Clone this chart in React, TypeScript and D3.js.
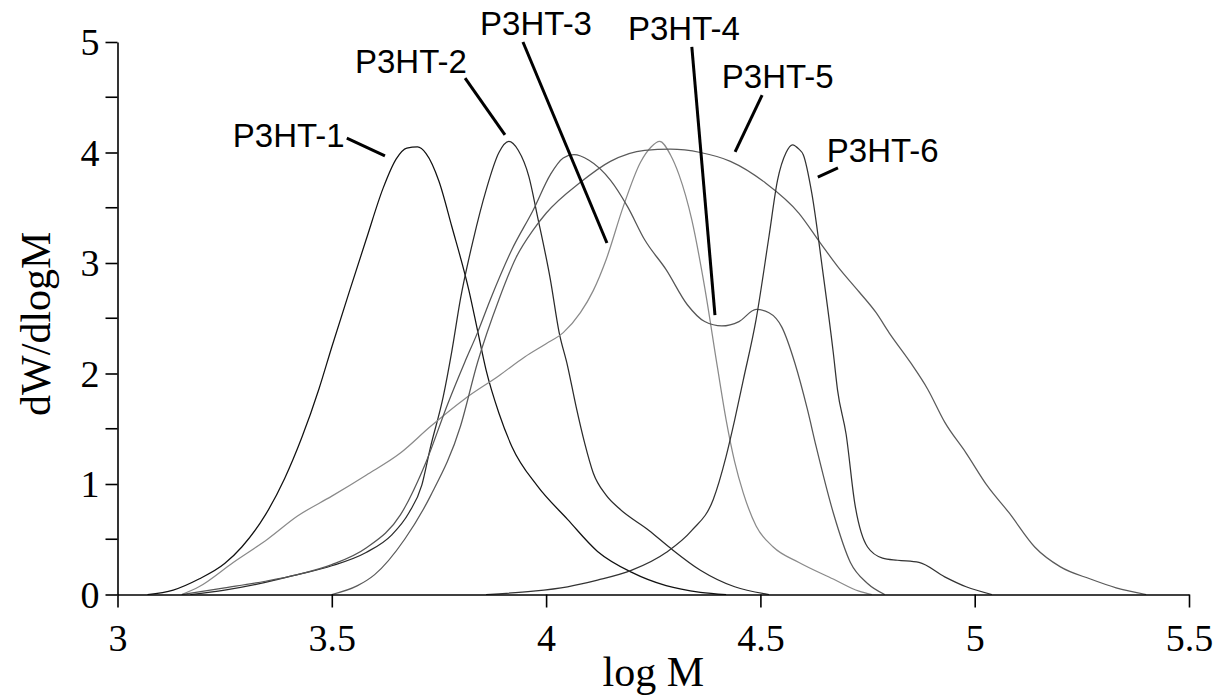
import * as d3 from "d3";
import { useEffect, useRef } from "react";

// GPC traces: [log M, dW/dlogM]
const p3ht1: [number, number][] = [
  [3.07, 0], [3.13, 0.04], [3.19, 0.14], [3.25, 0.28], [3.29, 0.43], [3.345, 0.72],
  [3.39, 1.05], [3.43, 1.42], [3.47, 1.86], [3.5, 2.24], [3.54, 2.73], [3.58, 3.21],
  [3.62, 3.68], [3.65, 3.94], [3.675, 4.04], [3.7, 4.05], [3.72, 3.99], [3.75, 3.74],
  [3.78, 3.33], [3.82, 2.75], [3.84, 2.39], [3.86, 2.03], [3.89, 1.64], [3.92, 1.34],
  [3.98, 0.98], [4.05, 0.68], [4.12, 0.39], [4.2, 0.2], [4.28, 0.08], [4.36, 0.02], [4.42, 0],
];

const p3ht2: [number, number][] = [
  [3.17, 0], [3.25, 0.04], [3.345, 0.11], [3.42, 0.18], [3.5, 0.26], [3.58, 0.38],
  [3.64, 0.54], [3.68, 0.74], [3.71, 0.99], [3.73, 1.33], [3.76, 1.79], [3.78, 2.2],
  [3.8, 2.67], [3.83, 3.21], [3.86, 3.66], [3.89, 4.0], [3.913, 4.1], [3.935, 4.02],
  [3.96, 3.78], [3.98, 3.42], [4.01, 2.85], [4.03, 2.38], [4.05, 2.07], [4.07, 1.7],
  [4.09, 1.37], [4.11, 1.1], [4.14, 0.9], [4.17, 0.78], [4.24, 0.58], [4.29, 0.42],
  [4.36, 0.22], [4.44, 0.07], [4.52, 0],
];

const p3ht3: [number, number][] = [
  [3.15, 0], [3.19, 0.07], [3.27, 0.29], [3.35, 0.5], [3.42, 0.71], [3.5, 0.89],
  [3.58, 1.08], [3.66, 1.28], [3.73, 1.52], [3.81, 1.77], [3.89, 1.98], [3.95, 2.15],
  [4.0, 2.27], [4.04, 2.37], [4.08, 2.55], [4.11, 2.75], [4.14, 3.03], [4.18, 3.51],
  [4.22, 3.91], [4.245, 4.05], [4.265, 4.1], [4.29, 3.98], [4.31, 3.8], [4.34, 3.39],
  [4.37, 2.78], [4.4, 2.05], [4.42, 1.58], [4.44, 1.2], [4.46, 0.92], [4.49, 0.62],
  [4.53, 0.43], [4.59, 0.29], [4.67, 0.14], [4.73, 0.03], [4.76, 0],
];

const p3ht4: [number, number][] = [
  [3.15, 0], [3.25, 0.06], [3.345, 0.12], [3.42, 0.18], [3.5, 0.27], [3.58, 0.42],
  [3.66, 0.72], [3.72, 1.2], [3.77, 1.72], [3.81, 2.1], [3.84, 2.37], [3.87, 2.67],
  [3.92, 3.12], [3.97, 3.48], [4.01, 3.8], [4.04, 3.95], [4.065, 3.98], [4.1, 3.93],
  [4.15, 3.75], [4.19, 3.51], [4.23, 3.21], [4.28, 2.94], [4.33, 2.62], [4.37, 2.47],
  [4.41, 2.43], [4.45, 2.47], [4.49, 2.58], [4.52, 2.55], [4.55, 2.42], [4.58, 2.1],
  [4.61, 1.67], [4.63, 1.34], [4.67, 0.74], [4.71, 0.29], [4.75, 0.1], [4.79, 0],
];

const p3ht5: [number, number][] = [
  [3.5, 0], [3.56, 0.08], [3.6, 0.18], [3.67, 0.5], [3.73, 0.89], [3.8, 1.52],
  [3.84, 2.1], [3.89, 2.67], [3.93, 3.05], [3.97, 3.3], [4.0, 3.45], [4.08, 3.73],
  [4.15, 3.92], [4.23, 4.02], [4.29, 4.03], [4.36, 4.0], [4.43, 3.92], [4.51, 3.73],
  [4.59, 3.45], [4.64, 3.18], [4.68, 2.97], [4.73, 2.74], [4.77, 2.55], [4.8, 2.37],
  [4.85, 2.1], [4.89, 1.86], [4.93, 1.56], [4.98, 1.28], [5.03, 0.98], [5.08, 0.74],
  [5.14, 0.43], [5.2, 0.25], [5.27, 0.14], [5.33, 0.06], [5.4, 0],
];

const p3ht6: [number, number][] = [
  [3.86, 0], [3.97, 0.03], [4.05, 0.07], [4.12, 0.13], [4.2, 0.22], [4.28, 0.38],
  [4.34, 0.58], [4.39, 0.86], [4.42, 1.25], [4.44, 1.58], [4.46, 1.94], [4.49, 2.49],
  [4.52, 3.24], [4.54, 3.75], [4.56, 4.0], [4.575, 4.07], [4.59, 4.03], [4.6, 3.98],
  [4.62, 3.63], [4.645, 2.94], [4.67, 2.19], [4.68, 1.85], [4.7, 1.45], [4.72, 0.83],
  [4.75, 0.43], [4.785, 0.33], [4.82, 0.31], [4.87, 0.29], [4.93, 0.16], [4.98, 0.07],
  [5.04, 0],
];

const seriesNames = ["P3HT-1", "P3HT-2", "P3HT-3", "P3HT-4", "P3HT-5", "P3HT-6"];
const seriesData = [p3ht1, p3ht2, p3ht3, p3ht4, p3ht5, p3ht6];
const seriesColors = ["#111", "#2a2a2a", "#8a8a8a", "#555", "#5a5a5a", "#333"];

const xTicks = [3, 3.5, 4, 4.5, 5, 5.5];
const yTicks = [0, 1, 2, 3, 4, 5];
const yMinorTicks = [0.5, 1.5, 2.5, 3.5, 4.5];

// label anchor [logM, dW] and leader line from/to, in data units
const labelPos: [number, number][] = [
  [3.269, 4.05], [3.554, 4.72], [3.846, 5.06], [4.191, 5.02], [4.41, 4.58], [4.655, 3.91],
];
const leaderFrom: [number, number][] = [
  [3.535, 4.13], [3.811, 4.674], [3.946, 5.0], [4.34, 4.955], [4.504, 4.52], [4.681, 3.86],
];
const leaderTo: [number, number][] = [
  [3.624, 3.97], [3.904, 4.16], [4.142, 3.181], [4.394, 2.529], [4.441, 4.005], [4.634, 3.778],
];

function drawChart(svgElement: SVGSVGElement) {
  const width = 1223;
  const height = 697;
  const svg = d3.select(svgElement);
  svg.selectAll("*").remove();
  svg.attr("width", width).attr("height", height).attr("viewBox", `0 0 ${width} ${height}`);

  svg.append("rect").attr("width", width).attr("height", height).attr("fill", "#fff");

  const x = d3.scaleLinear().domain([3, 5.5]).range([117.5, 1189]);
  const y = d3.scaleLinear().domain([0, 5]).range([594.5, 42]);

  const serif = "'Liberation Serif', 'Times New Roman', serif";
  const sans = "'Liberation Sans', Arial, sans-serif";

  // curves
  const line = d3
    .line<[number, number]>()
    .x((d) => x(d[0]))
    .y((d) => y(d[1]))
    .curve(d3.curveMonotoneX);

  svg
    .append("g")
    .selectAll("path")
    .data(seriesData)
    .join("path")
    .attr("d", (d) => line(d))
    .attr("fill", "none")
    .attr("stroke", (_d, i) => seriesColors[i])
    .attr("stroke-width", 1.25);

  // axes
  const xAxis = svg.append("g").attr("transform", `translate(0,${y(0)})`);
  xAxis.call(d3.axisBottom(x).tickValues(xTicks).tickSize(13).tickSizeOuter(0).tickFormat(d3.format("")));
  xAxis.select(".domain").attr("stroke-width", 1.6);
  xAxis.selectAll(".tick line").attr("stroke-width", 1.6);
  xAxis
    .selectAll(".tick text")
    .attr("font-family", serif)
    .attr("font-size", 38)
    .attr("fill", "#000")
    .attr("dy", 0)
    .attr("y", 56);

  const yAxis = svg.append("g").attr("transform", `translate(${x(3)},0)`);
  yAxis.call(d3.axisLeft(y).tickValues(yTicks).tickSize(12).tickSizeOuter(0).tickFormat(d3.format("")));
  yAxis.select(".domain").attr("stroke-width", 1.6);
  yAxis.selectAll(".tick line").attr("stroke-width", 1.6);
  yAxis
    .selectAll(".tick text")
    .attr("font-family", serif)
    .attr("font-size", 38)
    .attr("fill", "#000")
    .attr("x", -18)
    .attr("dy", "0.33em");

  yAxis
    .append("g")
    .selectAll("line")
    .data(yMinorTicks)
    .join("line")
    .attr("x1", -12)
    .attr("x2", 0)
    .attr("y1", (d) => y(d))
    .attr("y2", (d) => y(d))
    .attr("stroke", "#000")
    .attr("stroke-width", 1.6);

  // axis titles
  svg
    .append("text")
    .attr("x", (x(4) + x(4.5)) / 2)
    .attr("y", 686)
    .attr("text-anchor", "middle")
    .attr("font-family", serif)
    .attr("font-size", 42)
    .text("log M");

  svg
    .append("text")
    .attr("transform", `translate(50,${y(2.45)}) rotate(-90)`)
    .attr("text-anchor", "middle")
    .attr("font-family", serif)
    .attr("font-size", 42)
    .text("dW/dlogM");

  // labels with leader lines
  const ann = svg.append("g");
  ann
    .selectAll("line")
    .data(seriesNames)
    .join("line")
    .attr("x1", (_d, i) => x(leaderFrom[i][0]))
    .attr("y1", (_d, i) => y(leaderFrom[i][1]))
    .attr("x2", (_d, i) => x(leaderTo[i][0]))
    .attr("y2", (_d, i) => y(leaderTo[i][1]))
    .attr("stroke", "#000")
    .attr("stroke-width", 3);

  ann
    .selectAll("text")
    .data(seriesNames)
    .join("text")
    .attr("x", (_d, i) => x(labelPos[i][0]))
    .attr("y", (_d, i) => y(labelPos[i][1]))
    .attr("font-family", sans)
    .attr("font-size", 33)
    .attr("fill", "#000")
    .text((d) => d);
}

export default function App() {
  const svgRef = useRef<SVGSVGElement>(null);

  useEffect(() => {
    if (svgRef.current) drawChart(svgRef.current);
  }, []);

  return (
    <div style={{ position: "absolute", left: 0, top: 0 }}>
      <svg ref={svgRef} role="img" aria-label="P3HT molecular weight distributions" style={{ display: "block" }} />
    </div>
  );
}
